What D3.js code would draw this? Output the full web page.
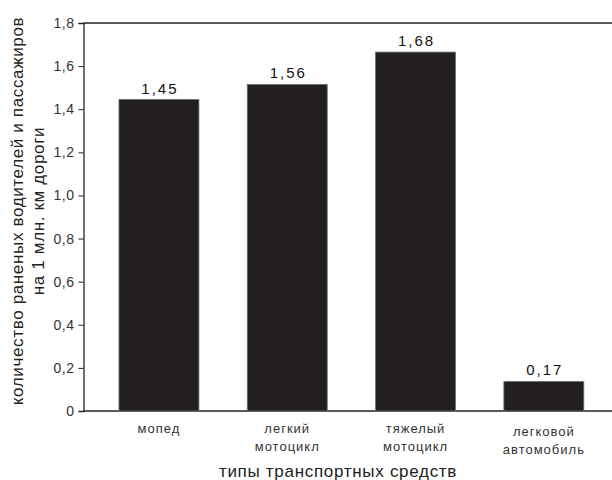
<!DOCTYPE html>
<html><head><meta charset="utf-8">
<script src="https://cdn.jsdelivr.net/npm/d3@7"></script>
<style>body{margin:0;background:#fff}svg{display:block}text{font-family:"Liberation Sans",Arial,sans-serif}</style>
</head><body>
<script>
const categories = [["мопед"], ["легкий","мотоцикл"], ["тяжелый","мотоцикл"], ["легковой","автомобиль"]];
const barValues = [1.445, 1.515, 1.665, 0.137];
const valueLabels = ["1,45", "1,56", "1,68", "0,17"];
const yTicks = [0, 0.2, 0.4, 0.6, 0.8, 1.0, 1.2, 1.4, 1.6, 1.8];
const yTickLabels = ["0","0,2","0,4","0,6","0,8","1,0","1,2","1,4","1,6","1,8"];
const yTitle = ["количество раненых водителей и пассажиров", "на 1 млн. км дороги"];
const xTitle = "типы транспортных средств";

const W = 612, H = 480;
const svg = d3.select("body").append("svg").attr("width", W).attr("height", H);

const y = d3.scaleLinear().domain([0, 1.8]).range([411, 23]);
const x = d3.scaleBand().domain(d3.range(categories.length)).range([94.8, 608])
  .paddingInner(0.377).paddingOuter(0.1885);

// frame lines
svg.append("line").attr("x1", 83.5).attr("x2", W).attr("y1", y(1.8)).attr("y2", y(1.8))
  .attr("stroke", "#222").attr("stroke-width", 1.3);
svg.append("line").attr("x1", 83.5).attr("x2", W).attr("y1", y(0)).attr("y2", y(0))
  .attr("stroke", "#222").attr("stroke-width", 1.3);

// y axis
const yAxis = d3.axisLeft(y).tickValues(yTicks).tickSize(5).tickPadding(4)
  .tickFormat((d, i) => yTickLabels[i]);
const ga = svg.append("g").attr("transform", "translate(83.5,0)").call(yAxis);
ga.select(".domain").attr("stroke", "#222").attr("stroke-width", 1.3);
ga.selectAll(".tick line").attr("stroke", "#222").attr("stroke-width", 1);
ga.selectAll(".tick text").attr("font-size", 14).attr("fill", "#333")
  .attr("letter-spacing", 0.5)
  .attr("font-family", "Liberation Sans, Arial, sans-serif");

// bars
svg.selectAll("rect.bar").data(barValues).enter().append("rect").attr("class", "bar")
  .attr("x", (d, i) => x(i)).attr("width", x.bandwidth())
  .attr("y", d => y(d)).attr("height", d => y(0) - y(d))
  .attr("fill", "#231f20").attr("stroke", "#6e6b6a").attr("stroke-width", 0.8);

// value labels
svg.selectAll("text.val").data(barValues).enter().append("text").attr("class", "val")
  .attr("x", (d, i) => x(i) + x.bandwidth() / 2 + 1).attr("y", d => y(d) - 6)
  .attr("text-anchor", "middle").attr("font-size", 15).attr("letter-spacing", 2)
  .attr("fill", "#111").text((d, i) => valueLabels[i]);

// category labels
categories.forEach((lines, i) => {
  lines.forEach((t, j) => {
    svg.append("text").attr("x", x(i) + x.bandwidth() / 2).attr("y", 433 + j * 18 + (i === 3 ? 3 : 0))
      .attr("text-anchor", "middle").attr("font-size", 13).attr("letter-spacing", 1)
      .attr("fill", "#333").text(t);
  });
});

// x title
svg.append("text").attr("x", 338).attr("y", 477).attr("text-anchor", "middle")
  .attr("font-size", 17).attr("letter-spacing", 0.7).attr("fill", "#222").text(xTitle);

// y title
yTitle.forEach((t, j) => {
  svg.append("text").attr("transform", `translate(${23 + j * 21},211) rotate(-90)`)
    .attr("text-anchor", "middle").attr("font-size", 17).attr("letter-spacing", 0.65)
    .attr("fill", "#222").text(t);
});
</script>
</body></html>
